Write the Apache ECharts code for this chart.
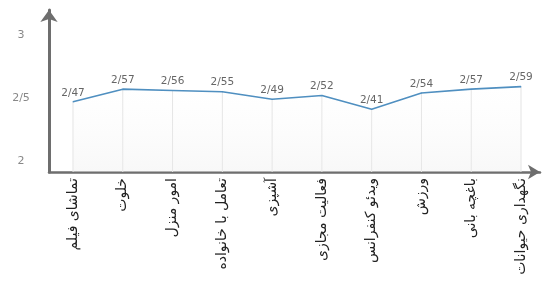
<!DOCTYPE html>
<html><head><meta charset="utf-8">
<script src="https://cdn.jsdelivr.net/npm/echarts@6/dist/echarts.min.js"></script>
<style>html,body{margin:0;padding:0;background:#fff}#c{width:543px;height:281px}</style>
</head><body><div id="c"></div>
<script>
const categories = ['تماشای فیلم','خلوت','امور منزل','تعامل با خانواده','آشپزی','فعالیت مجازی','ویدئو کنفرانس','ورزش','باغچه بانی','نگهداری حیوانات'];
const values = [2.47, 2.57, 2.56, 2.55, 2.49, 2.52, 2.41, 2.54, 2.57, 2.59];
const yTicks = [2, 2.5, 3];

const yMin = 1.913, yMax = 3.198;
const fmt = v => String(v).replace('.', '/');
const chart = echarts.init(document.getElementById('c'));
chart.setOption({
  animation: false,
  backgroundColor: '#fff',
  grid: [
    {left: 73, right: 22, top: 10, bottom: 109},
    {left: 49, right: 3, top: 10, bottom: 109}
  ],
  xAxis: [
    {type: 'category', gridIndex: 0, data: categories, boundaryGap: false,
     axisLine: {show: false}, axisTick: {show: false}, splitLine: {show: false},
     axisLabel: {rotate: 90, margin: 6, fontSize: 14, color: '#222', fontFamily: 'DejaVu Sans'}},
    {type: 'value', gridIndex: 1, min: 0, max: 1, axisLabel: {show: false}, axisTick: {show: false}, splitLine: {show: false},
     axisLine: {show: true, symbol: ['none', 'arrow'], symbolSize: [11, 12], lineStyle: {color: '#6e6e6e', width: 2.5}}}
  ],
  yAxis: [
    {type: 'value', gridIndex: 0, min: yMin, max: yMax,
     axisLine: {show: false}, axisTick: {show: false}, splitLine: {show: false},
     axisLabel: {customValues: yTicks, formatter: v => fmt(v), align: 'center', margin: 52, fontSize: 11, color: '#888', fontFamily: 'DejaVu Sans'}},
    {type: 'value', gridIndex: 1, min: 0, max: 1, axisLabel: {show: false}, axisTick: {show: false}, splitLine: {show: false},
     axisLine: {show: true, symbol: ['none', 'arrow'], symbolSize: [13, 12], lineStyle: {color: '#6e6e6e', width: 3}}}
  ],
  series: [
    {type: 'bar', xAxisIndex: 0, yAxisIndex: 0, data: values, barWidth: 1, silent: true,
     itemStyle: {color: '#e4e4e4'}, z: 1},
    {type: 'line', xAxisIndex: 0, yAxisIndex: 0, data: values, showSymbol: true, symbol: 'circle', symbolSize: 1, z: 3,
     itemStyle: {color: '#4f8fc0'},
     lineStyle: {color: '#4f8fc0', width: 1.6},
     areaStyle: {color: new echarts.graphic.LinearGradient(0, 0, 0, 1, [{offset: 0, color: 'rgba(245,245,245,0)'}, {offset: 1, color: 'rgba(235,235,235,0.5)'}])},
     label: {show: true, position: 'top', distance: 3, fontSize: 10.5, color: '#666', fontFamily: 'DejaVu Sans',
             formatter: p => p.value.toFixed(2).replace('.', '/')}}
  ]
});
</script></body></html>
